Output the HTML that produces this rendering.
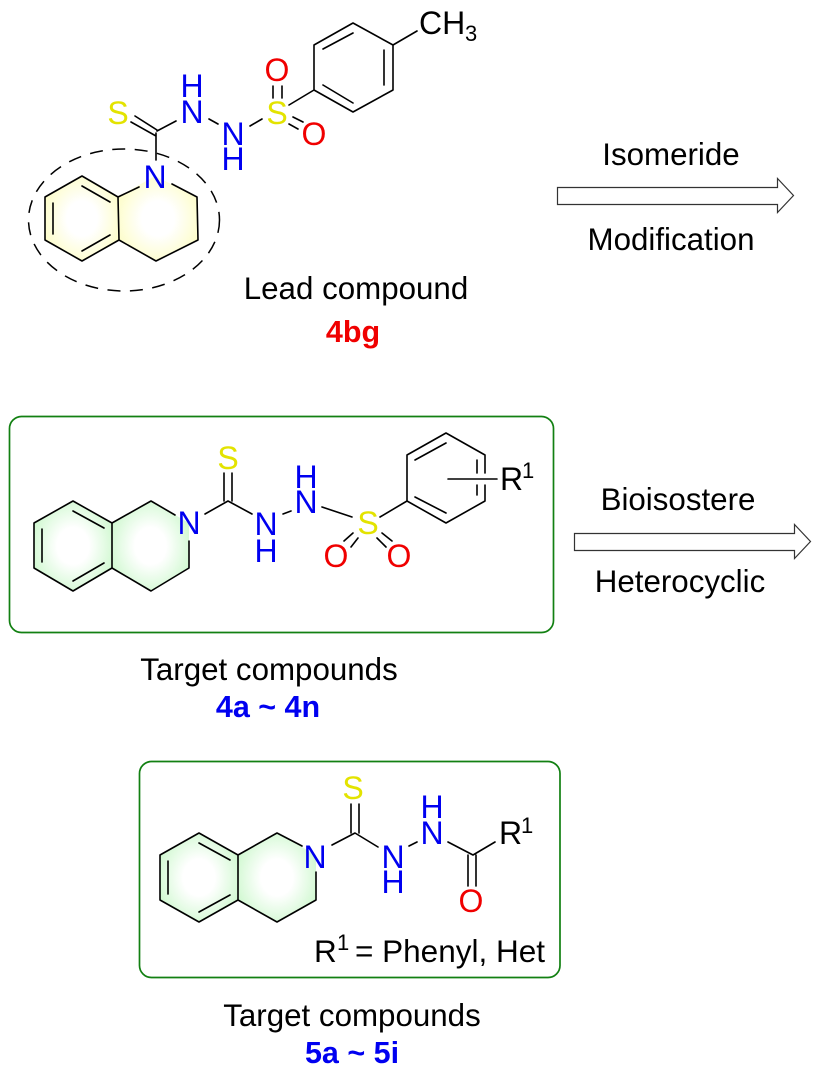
<!DOCTYPE html>
<html><head><meta charset="utf-8"><style>
html,body{margin:0;padding:0;background:#fff}
svg{display:block}
text{font-family:"Liberation Sans",Arial,sans-serif;font-size:32px;text-anchor:middle}
.b{fill:#0000f0}.r{fill:#f00000}.y{fill:#e3e300}.k{fill:#000}
.t{font-size:31.3px;fill:#000}
.bd{font-weight:bold;font-size:30.5px}
.l{fill:none;stroke:#000;stroke-width:1.6;stroke-linecap:round;stroke-linejoin:round}
.st{text-anchor:start}
.sup{font-size:22px;text-anchor:start}
</style></head><body>
<svg width="821" height="1081" viewBox="0 0 821 1081" xmlns="http://www.w3.org/2000/svg">
<defs>
<radialGradient id="ya" cx="0.5" cy="0.5" r="0.68"><stop offset="0.3" stop-color="#fff"/><stop offset="1" stop-color="#fcfcb4"/></radialGradient>
<radialGradient id="ga" cx="0.5" cy="0.5" r="0.68"><stop offset="0.3" stop-color="#fff"/><stop offset="1" stop-color="#bff6bf"/></radialGradient>
</defs>

<!-- TOP MOLECULE -->
<polygon points="82,176 118,197 119,240 82,261 45,240 45,197" fill="url(#ya)"/>
<polygon points="118,197 155,176 197,197 198,240 156,261 119,240" fill="url(#ya)"/>
<ellipse cx="124" cy="220" rx="95.500" ry="71" fill="none" stroke="#000" stroke-width="1.500" stroke-dasharray="13 9.500"/>
<path class="l" d="M139,187L118,197L119,240L82,261L45,240L45,197L82,176L118,197M82,186L110,202M82,251L110,235M53,203V234M119,240L156,261L198,240L197,197L172,184M156,133V160M157,131L176,121M131,122L156,136M135,116L157,130M209,119L218,124M250,126L262,119M273,86V98M282,86V98M293,117L303,122M289,124L298,129M289,105L314,90L314,45L353,23L393,45L393,90L353,112L314,90M323,85L353,103M323,49L353,33M384,50V85M393,45L417,31"/>
<text class="b" x="155" y="188">N</text>
<text class="y" x="118" y="124">S</text>
<text class="b" x="192" y="123">N</text>
<text class="b" x="192" y="97">H</text>
<text class="b" x="233" y="145">N</text>
<text class="b" x="233" y="170">H</text>
<text class="y" x="277" y="124">S</text>
<text class="r" x="277" y="81">O</text>
<text class="r" x="314" y="145">O</text>
<text class="k st" x="419" y="34">CH</text>
<text class="k st" x="465" y="41" style="font-size:22px">3</text>
<text class="t" x="356" y="299">Lead compound</text>
<text class="r bd" x="353" y="342">4bg</text>

<!-- ARROW 1 -->
<polygon points="557.500,187.500 777.500,187.500 777.500,178.500 793.500,195.500 777.500,212.500 777.500,204.500 557.500,204.500" fill="#fff" stroke="#333" stroke-width="1.200"/>
<text class="t" x="671" y="165">Isomeride</text>
<text class="t" x="671" y="250">Modification</text>

<!-- MIDDLE BOX -->
<rect x="9.500" y="416.500" width="544" height="216" rx="12" fill="#fff" stroke="#128012" stroke-width="1.700"/>
<polygon points="73,501 112,523 112,568 73,591 34,568 34,523" fill="url(#ga)"/>
<polygon points="112,523 151,501 189,523 189,568 151,591 112,568" fill="url(#ga)"/>
<path class="l" d="M175,515L151,501L112,523L112,568L151,591L189,568V541M112,523L73,501L34,523V568L73,591L112,568M73,511L104,528M73,581L104,563M42,529V562M205,514L228,501L252,514M224,473V501M232,473V501M283,514L291,511M322,507L352,517M380,517L407,501L407,455L446,433L485,455V473M485,485V501L446,523L407,501M415,497L446,513M415,460L446,443M477,460V473M477,485V495M448,479H497M344,541L353,533M351,547L358,538M382,533L392,541M377,538L386,547"/>
<text class="b" x="189" y="534">N</text>
<text class="y" x="228" y="469">S</text>
<text class="b" x="266" y="535">N</text>
<text class="b" x="266" y="562">H</text>
<text class="b" x="306" y="513">N</text>
<text class="b" x="306" y="488">H</text>
<text class="y" x="368" y="534">S</text>
<text class="r" x="336" y="567">O</text>
<text class="r" x="399" y="567">O</text>
<text class="k st" x="500" y="490">R</text>
<text class="k sup" x="522" y="478">1</text>
<text class="t" x="269" y="680">Target compounds</text>
<text class="b bd" x="268" y="717">4a ~ 4n</text>

<!-- ARROW 2 -->
<polygon points="574.500,533.500 794.500,533.500 794.500,524.500 810.500,541.500 794.500,558.500 794.500,550.500 574.500,550.500" fill="#fff" stroke="#333" stroke-width="1.200"/>
<text class="t" x="678" y="510">Bioisostere</text>
<text class="t" x="680" y="592">Heterocyclic</text>

<!-- BOTTOM BOX -->
<rect x="139.500" y="761.500" width="420.500" height="216" rx="12" fill="#fff" stroke="#128012" stroke-width="1.700"/>
<polygon points="199,833 238,855 238,900 199,922 160,900 160,855" fill="url(#ga)"/>
<polygon points="238,855 277,833 316,855 316,900 277,922 238,900" fill="url(#ga)"/>
<path class="l" d="M302,846L277,833L238,855L238,900L277,922L316,900V872M238,855L199,833L160,855V900L199,922L238,900M199,843L230,860M199,912L230,895M168,861V894M332,845L355,833L378,847M351,804V833M359,804V833M409,846L417,842M448,842L473,855L495,842M468,855V886M476,855V886"/>
<text class="b" x="315" y="868">N</text>
<text class="y" x="353" y="799">S</text>
<text class="b" x="393" y="868">N</text>
<text class="b" x="393" y="893">H</text>
<text class="b" x="432" y="844">N</text>
<text class="b" x="432" y="818">H</text>
<text class="r" x="471" y="912">O</text>
<text class="k st" x="499" y="844">R</text>
<text class="k sup" x="521" y="833">1</text>
<text class="k st" x="314" y="962" style="font-size:31.500px">R</text>
<text class="k sup" x="337" y="950">1</text>
<text class="k st" x="355" y="962" style="font-size:31.500px">= Phenyl, Het</text>
<text class="t" x="352" y="1026">Target compounds</text>
<text class="b bd" x="352" y="1063">5a ~ 5i</text>
</svg>
</body></html>
